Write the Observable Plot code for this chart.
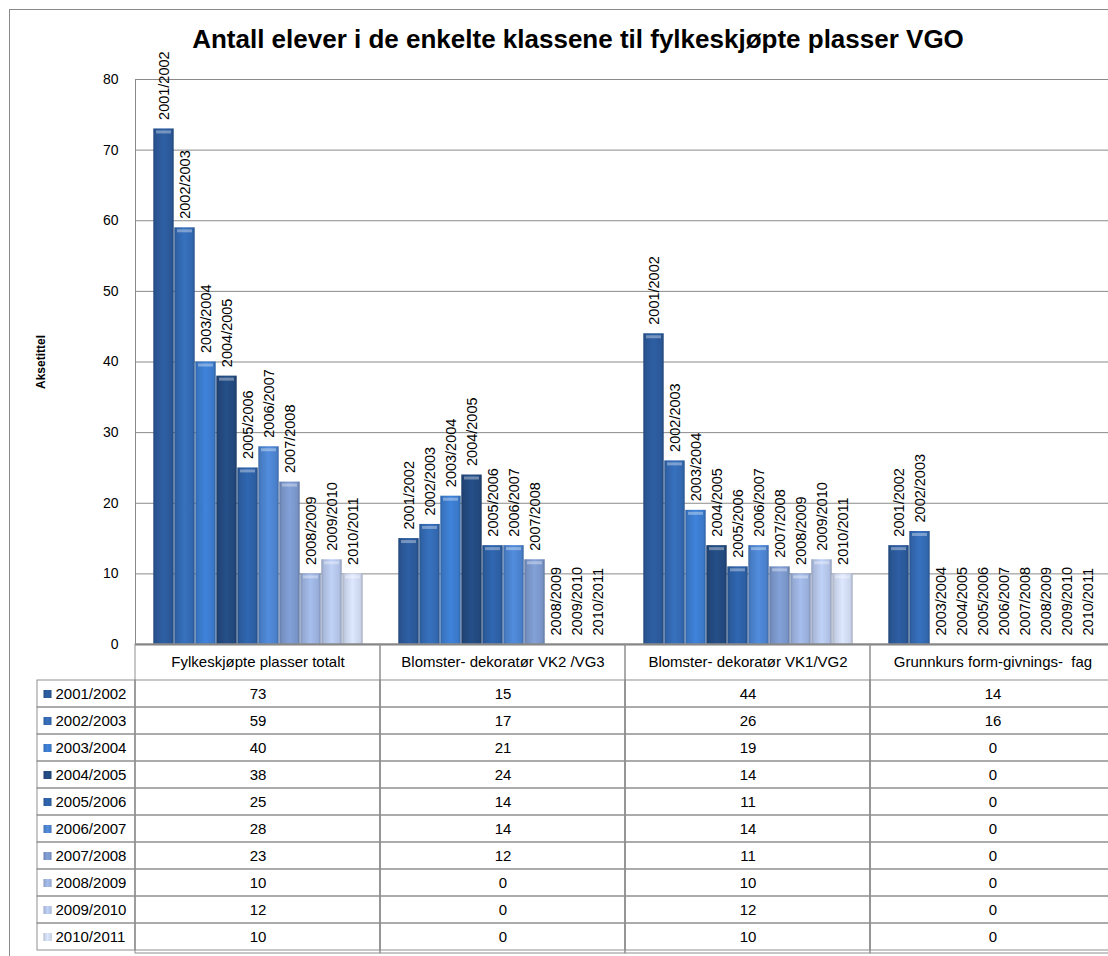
<!DOCTYPE html>
<html>
<head>
<meta charset="utf-8">
<script src="https://cdn.jsdelivr.net/npm/d3@7"></script>
<script src="https://cdn.jsdelivr.net/npm/@observablehq/plot@0.6"></script>
<style>
  html, body { margin: 0; padding: 0; background: #fff; }
  #wrap { position: relative; width: 1108px; height: 956px; overflow: hidden; background: #fff; font-family: "Liberation Sans", Arial, sans-serif; }
  #border { position: absolute; left: 9px; top: 9px; width: 1200px; height: 1000px; border-left: 1px solid #8a8a8a; border-top: 1px solid #8a8a8a; }
  #title { position: absolute; top: 24px; left: 0; width: 1156px; text-align: center; font-weight: bold; font-size: 26px; line-height: 30px; color: #000; white-space: nowrap; }
  .layer { position: absolute; left: 0; width: 1116px; }
  .layer svg { max-width: none !important; display: block; }
</style>
</head>
<body>
<div id="wrap">
  <div id="border"></div>
  <svg id="gdefs" width="0" height="0" style="position:absolute"></svg>
  <div id="title">Antall elever i de enkelte klassene til fylkeskjøpte plasser VGO</div>
  <div id="chart" class="layer" style="top:0"></div>
  <div id="table" class="layer" style="top:644px"></div>
</div>
<script>
// ---- data ----
const years = ["2001/2002", "2002/2003", "2003/2004", "2004/2005", "2005/2006",
               "2006/2007", "2007/2008", "2008/2009", "2009/2010", "2010/2011"];
const categories = ["Fylkeskjøpte plasser totalt", "Blomster- dekoratør VK2 /VG3",
                    "Blomster- dekoratør VK1/VG2", "Grunnkurs form-givnings-  fag"];
const fylkeskjopteTotalt = [73, 59, 40, 38, 25, 28, 23, 10, 12, 10];
const blomsterVK2VG3     = [15, 17, 21, 24, 14, 14, 12, 0, 0, 0];
const blomsterVK1VG2     = [44, 26, 19, 14, 11, 14, 11, 10, 12, 10];
const grunnkursForm      = [14, 16, 0, 0, 0, 0, 0, 0, 0, 0];
const yTicks = [0, 10, 20, 30, 40, 50, 60, 70, 80];
const yTitle = "Aksetittel";
const palette = ["#2a5796", "#3267ae", "#3a78c8", "#22487c", "#2c5ea2",
                 "#4a80ca", "#7893c6", "#98aed9", "#b0c0e3", "#cad4ea"];

const seriesValues = [fylkeskjopteTotalt, blomsterVK2VG3, blomsterVK1VG2, grunnkursForm];
const rows = categories.flatMap((cat, ci) =>
  years.map((year, yi) => ({cat, year, value: seriesValues[ci][yi]})));

// gradients for bevelled bars
const NS = "http://www.w3.org/2000/svg";
const gdefs = document.getElementById("gdefs");
const defs = document.createElementNS(NS, "defs");
palette.forEach((c, i) => {
  const g = document.createElementNS(NS, "linearGradient");
  g.setAttribute("id", "grad" + i);
  g.setAttribute("x1", "0"); g.setAttribute("x2", "1");
  g.setAttribute("y1", "0"); g.setAttribute("y2", "0");
  const stops = [[0, d3.color(c).darker(0.55)], [0.12, d3.color(c).darker(0.1)],
                 [0.5, d3.color(c).brighter(0.25)], [0.88, d3.color(c)], [1, d3.color(c).darker(0.6)]];
  for (const [o, col] of stops) {
    const s = document.createElementNS(NS, "stop");
    s.setAttribute("offset", o);
    s.setAttribute("stop-color", col.formatHex());
    g.appendChild(s);
  }
  defs.appendChild(g);
});
gdefs.appendChild(defs);

const colorScale = {type: "ordinal", domain: years, range: years.map((_, i) => `url(#grad${i})`)};
const gridColor = "#8a8a8a";
const font = "Liberation Sans, Arial, sans-serif";

// ---- bar chart ----
const chart = Plot.plot({
  width: 1116, height: 645,
  marginTop: 79, marginBottom: 1, marginLeft: 135, marginRight: 1,
  style: {background: "transparent", overflow: "visible", fontFamily: font, color: "#000", maxWidth: "none"},
  fx: {domain: categories, padding: 0, axis: null},
  x: {domain: years, paddingInner: 0, paddingOuter: 0.72, axis: null},
  y: {domain: [0, 80], axis: null},
  color: colorScale,
  marks: [
    Plot.ruleY(yTicks.filter(t => t > 0), {stroke: gridColor, strokeWidth: 1}),
    Plot.barY(rows, {fx: "cat", x: "year", y: "value", fill: "year", insetLeft: 0.3, insetRight: 0.3}),
    Plot.tickY(rows.filter(d => d.value > 0), {fx: "cat", x: "year", y: "value", stroke: "white",
      strokeOpacity: 0.35, strokeWidth: 3, dy: 3, insetLeft: 3, insetRight: 3}),
    Plot.ruleY([0], {stroke: "#7f7f7f", strokeWidth: 2}),
    Plot.frame({anchor: "left", facet: "super", stroke: gridColor}),
    Plot.text(rows, {fx: "cat", x: "year", y: "value", text: "year", rotate: -90,
      textAnchor: "start", dy: -9, fontSize: 14.5, fill: "#000"}),
    Plot.axisY({ticks: yTicks, tickSize: 0, tickPadding: 17, fontSize: 14, label: null}),
    Plot.text([yTitle], {fx: () => categories[0], frameAnchor: "left", dx: -94, rotate: -90,
      textAnchor: "middle", lineAnchor: "middle", fontWeight: "bold", fontSize: 12, fill: "#000"})
  ]
});
document.getElementById("chart").appendChild(chart);

// ---- data table ----
const lineColor = "#8f8f8f";
const table = Plot.plot({
  width: 1116, height: 310,
  marginTop: 32, marginBottom: 1, marginLeft: 135, marginRight: 1,
  style: {background: "transparent", overflow: "visible", fontFamily: font, color: "#000", maxWidth: "none"},
  fx: {domain: categories, padding: 0, axis: null},
  y: {domain: years, padding: 0, axis: null},
  color: colorScale,
  marks: [
    Plot.cell(categories, {fx: d => d, x: null, y: null, fill: "none", stroke: lineColor, insetTop: -32}),
    Plot.cell(rows, {fx: "cat", x: null, y: "year", fill: "none", stroke: lineColor}),
    Plot.cell(years, {fx: () => categories[0], x: null, y: d => d, fill: "none", stroke: lineColor,
      insetLeft: -98, insetRight: 245}),
    Plot.text(categories, {fx: d => d, frameAnchor: "top", lineAnchor: "middle", dy: -14,
      text: d => d, fontSize: 15, fill: "#000"}),
    Plot.text(rows, {fx: "cat", y: "year", text: "value", fontSize: 15, fill: "#000"}),
    Plot.dot(years, {fx: () => categories[0], y: d => d, frameAnchor: "left", dx: -88,
      symbol: "square", r: 4.5, fill: d => d}),
    Plot.text(years, {fx: () => categories[0], y: d => d, frameAnchor: "left", dx: -80,
      textAnchor: "start", text: d => d, fontSize: 15, fill: "#000"})
  ]
});
document.getElementById("table").appendChild(table);
</script>
</body>
</html>
